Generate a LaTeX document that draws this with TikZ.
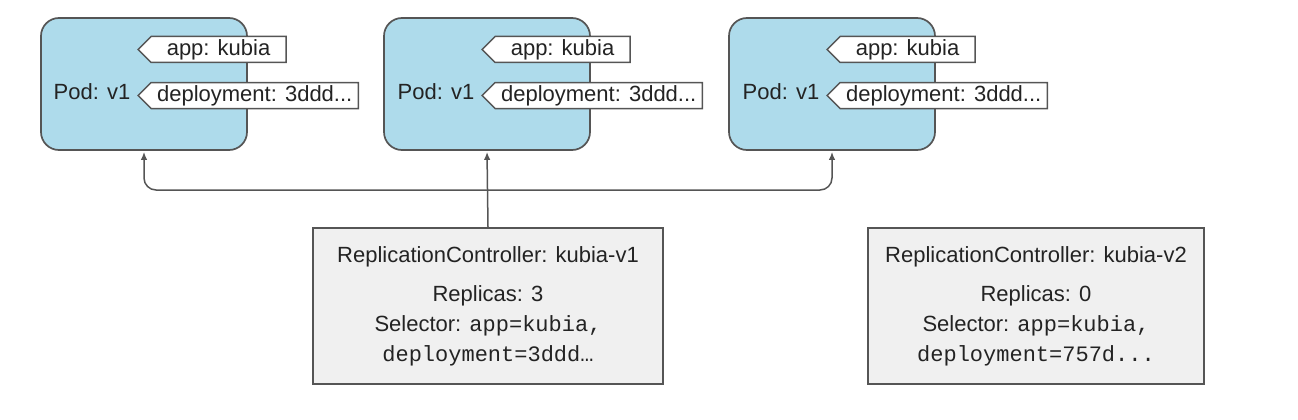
\documentclass[tikz,border=0pt]{standalone}
\usepackage{fontspec}
\setmainfont{Liberation Sans}
\setmonofont{Liberation Mono}
\usetikzlibrary{shapes.symbols,arrows.meta,positioning}

\definecolor{podblue}{RGB}{174,219,235}
\definecolor{rcgray}{RGB}{240,240,240}
\definecolor{edgegray}{RGB}{85,85,85}
\definecolor{inkgray}{RGB}{35,35,35}

\tikzset{
  pod/.style={draw=edgegray, fill=podblue, rounded corners=18pt, line width=1.7pt,
    minimum width=206pt, minimum height=132pt},
  podname/.style={text=inkgray, font=\fontsize{22}{26}\selectfont, inner sep=0pt},
  tag/.style={signal, signal to=west, signal pointer angle=90, draw=edgegray, fill=white,
    line width=1.5pt, minimum height=26pt, inner xsep=6pt, inner ysep=2pt, anchor=west,
    text=inkgray, font=\fontsize{22}{26}\selectfont},
  rc/.style={draw=edgegray, fill=rcgray, line width=1.7pt, minimum height=156pt,
    align=center, text=inkgray, font=\fontsize{22}{30}\selectfont},
  link/.style={draw=edgegray, line width=1.5pt, >={Latex[length=8pt,width=6.5pt]}}
}

\begin{document}
\begin{tikzpicture}[x=1pt,y=-1pt]
		% picture frame
		\useasboundingbox (0,0) rectangle (1298,420);
		
		% the three pods of kubia-v1
		\node[pod] (pod1) at (144,84) {};
		\node[pod] (pod2) at (487,84) {};
		\node[pod] (pod3) at (832,84) {};
		
		\node[podname] (name1) at (92,92) {Pod: v1};
		\node[podname] (name2) at (436,92) {Pod: v1};
		\node[podname] (name3) at (781,92) {Pod: v1};
		
		% labels hanging on the pods
		\node[tag, minimum width=148pt] (app1) at (137,49.5) {app: kubia};
		\node[tag] (dep1) at (137,95.5) {deployment: 3ddd...};
		\node[tag, minimum width=148pt] (app2) at (481,49.5) {app: kubia};
		\node[tag] (dep2) at (481,95.5) {deployment: 3ddd...};
		\node[tag, minimum width=148pt] (app3) at (826,49.5) {app: kubia};
		\node[tag] (dep3) at (826,95.5) {deployment: 3ddd...};
		
		% the two replication controllers
		\node[rc, minimum width=350pt] (rc1) at (488,306)
		  {ReplicationController: kubia-v1\\[9pt]
		   Replicas: 3\\
		   Selector: \texttt{app=kubia,}\\
		   \texttt{deployment=3ddd…}};
		\node[rc, minimum width=336pt] (rc2) at (1036,306)
		  {ReplicationController: kubia-v2\\[9pt]
		   Replicas: 0\\
		   Selector: \texttt{app=kubia,}\\
		   \texttt{deployment=757d...}};
		
		% rc1 points at its pods
		\coordinate (hub) at (rc1.north |- 0,190);
		\draw[link, ->, shorten >=1pt] (rc1.north) -- (pod2.south);
		\draw[link, <->, rounded corners=12pt, shorten <=1pt, shorten >=1pt]
		  (pod1.south) |- (hub) -| (pod3.south);
		
\end{tikzpicture}
\end{document}
